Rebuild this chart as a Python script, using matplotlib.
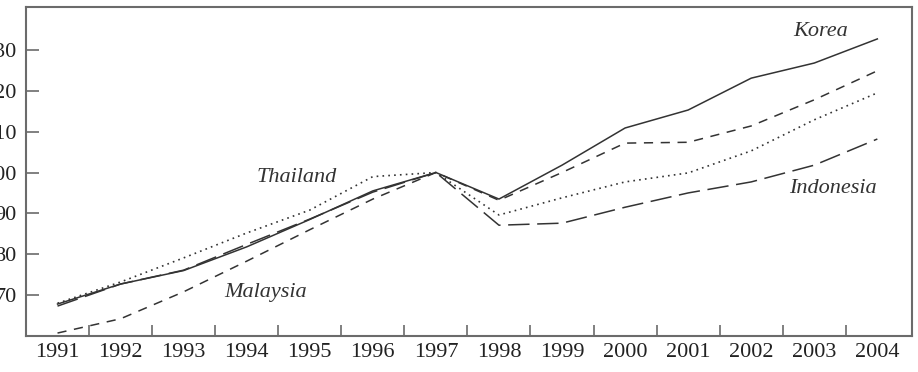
import numpy as np
import matplotlib
matplotlib.use("Agg")
import matplotlib.pyplot as plt

years = np.arange(1991, 2005)

korea     = [67.8, 72.7, 76.0, 81.8, 88.5, 95.5, 100.0, 93.5, 101.8, 110.9, 115.3, 123.1, 126.8, 132.7]
malaysia  = [60.7, 64.2, 70.8, 78.3, 86.0, 93.5, 100.0, 93.2, 100.0, 107.2, 107.4, 111.4, 117.8, 124.9]
thailand  = [68.0, 73.2, 79.1, 85.2, 90.8, 99.0, 100.0, 89.6, 93.8, 97.7, 99.9, 105.3, 112.9, 119.5]
indonesia = [67.3, 72.7, 76.1, 82.4, 88.6, 95.2, 100.0, 87.1, 87.6, 91.5, 95.0, 97.7, 101.8, 108.2]

yticks = [70, 80, 90, 100, 110, 120, 130]

line_col = "#333333"
axis_col = "#6b6b6b"
serif = ["Liberation Serif", "DejaVu Serif"]

fig = plt.figure(figsize=(9.18, 3.72), dpi=100)
ax = fig.add_axes([0.0283, 0.097, 0.9652, 0.884])

ax.plot(years, korea, color=line_col, lw=1.1, linestyle="-")
ax.plot(years, malaysia, color=line_col, lw=1.1, linestyle=(0, (6, 5)))
ax.plot(years, thailand, color=line_col, lw=1.2, linestyle=(0, (1, 2.5)))
ax.plot(years, indonesia, color=line_col, lw=1.1, linestyle=(0, (14, 5)))

ax.set_xlim(1990.5, 2004.55)
ax.set_ylim(60, 140.5)

# ticks sit between the years, labels centred on the years
ax.set_xticks(years[:-1] + 0.5)
ax.set_xticklabels([])
ax.set_xticks(years, minor=True)
ax.set_xticklabels([str(y) for y in years], minor=True, family=serif, fontsize=16, color="#222222")
ax.tick_params(axis="x", which="major", direction="in", length=8, width=1.2, color=axis_col)
ax.tick_params(axis="x", which="minor", length=0, pad=5)

ax.set_yticks(yticks)
ax.set_yticklabels([str(v) for v in yticks], family=serif, fontsize=16, color="#222222")
ax.tick_params(axis="y", direction="in", length=9, width=1.2, color=axis_col, pad=7)

for s in ax.spines.values():
    s.set_color(axis_col)
    s.set_linewidth(1.5)

lab = dict(family=serif, style="italic", fontsize=16, color="#333333", ha="center", va="center")
ax.text(2003.1, 134.4, "Korea", **lab)
ax.text(1994.8, 98.9, "Thailand", **lab)
ax.text(1994.3, 70.6, "Malaysia", **lab)
ax.text(2003.3, 96.0, "Indonesia", **lab)

fig.savefig("out.png", dpi=100)
